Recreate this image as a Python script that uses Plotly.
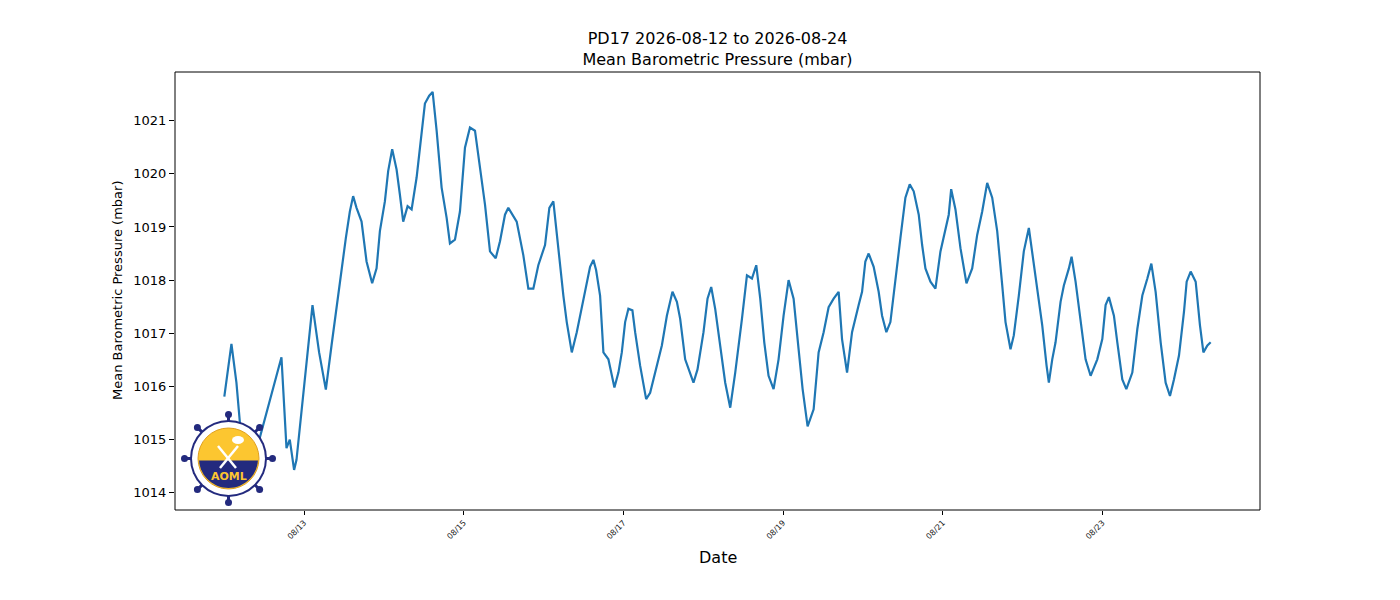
import math
import pandas as pd
import plotly.graph_objects as go

# hours after 2026-08-12 00:00 and pressure
hours = [0.0, 2.14, 3.64, 4.63, 6.44, 17.18, 18.69, 19.68, 20.98, 21.70,
         24.20, 26.51, 28.50, 30.52, 32.23, 34.22, 35.24, 36.53, 37.74, 38.73,
         39.75, 41.26, 42.76, 44.45, 45.77, 46.77, 48.27, 49.26, 50.47, 51.79,
         52.78, 53.78, 55.10, 56.31, 57.81, 59.01, 60.31, 61.60, 62.63, 63.83,
         65.33, 66.84, 67.83, 69.34, 70.84, 72.35, 73.85, 75.36, 76.86, 78.37,
         79.87, 81.59, 82.88, 84.38, 85.38, 87.90, 89.89, 91.40, 92.90, 94.40,
         96.42, 97.72, 98.92, 100.42, 101.93, 102.95, 104.46, 105.96, 107.47, 108.97,
         109.96, 110.96, 111.77, 112.97, 113.97, 115.47, 117.28, 118.48, 119.50, 120.50,
         121.49, 122.69, 123.51, 125.01, 126.82, 128.02, 130.04, 131.54, 133.05, 134.73,
         136.06, 137.05, 138.55, 139.55, 141.05, 142.26, 144.06, 145.27, 146.38, 147.58,
         149.09, 150.59, 152.10, 153.60, 155.62, 157.12, 158.63, 159.92, 161.12, 162.33,
         163.62, 165.13, 166.63, 168.14, 169.64, 171.15, 172.65, 173.86, 175.36, 177.17,
         178.67, 180.18, 181.68, 183.19, 184.69, 185.71, 187.22, 188.72, 190.71, 191.73,
         192.72, 193.71, 195.22, 196.72, 197.75, 199.04, 200.25, 201.75, 203.26, 204.76,
         206.06, 207.26, 208.77, 209.79, 210.78, 212.29, 213.79, 215.30, 216.80, 217.79,
         218.52, 219.81, 221.32, 223.12, 224.84, 226.34, 227.85, 229.35, 230.86, 232.36,
         233.87, 234.86, 236.36, 237.35, 238.86, 240.36, 241.87, 243.19, 244.40, 245.90,
         247.20, 247.89, 248.91, 249.90, 251.41, 252.40, 253.91, 254.72, 255.92, 257.43,
         258.93, 260.44, 262.45, 263.96, 264.95, 265.94, 267.45, 268.47, 269.97, 271.18,
         272.98, 274.49, 275.99, 277.50, 278.70, 279.99, 281.50, 283.00, 284.30, 285.50,
         287.01, 288.51, 289.32, 290.52, 292.03, 293.32, 294.35, 295.55, 296.54]

pressure = [1015.81, 1016.80, 1016.07, 1015.31, 1014.05, 1016.55, 1014.84, 1015.00, 1014.43, 1014.62,
            1016.20, 1017.53, 1016.64, 1015.94, 1016.77, 1017.71, 1018.28, 1018.79, 1019.29, 1019.58,
            1019.36, 1019.10, 1018.35, 1017.94, 1018.22, 1018.92, 1019.48, 1020.05, 1020.46, 1020.08,
            1019.61, 1019.10, 1019.39, 1019.33, 1019.93, 1020.62, 1021.32, 1021.47, 1021.54, 1020.81,
            1019.74, 1019.17, 1018.69, 1018.76, 1019.29, 1020.49, 1020.87, 1020.81, 1020.11, 1019.42,
            1018.54, 1018.41, 1018.73, 1019.23, 1019.36, 1019.10, 1018.47, 1017.84, 1017.84, 1018.28,
            1018.66, 1019.36, 1019.48, 1018.54, 1017.71, 1017.21, 1016.64, 1017.02, 1017.46, 1017.90,
            1018.25, 1018.38, 1018.19, 1017.71, 1016.64, 1016.51, 1015.98, 1016.26, 1016.64, 1017.21,
            1017.46, 1017.43, 1017.02, 1016.39, 1015.76, 1015.88, 1016.39, 1016.77, 1017.33, 1017.78,
            1017.59, 1017.27, 1016.51, 1016.32, 1016.07, 1016.32, 1017.02, 1017.65, 1017.87, 1017.46,
            1016.77, 1016.07, 1015.60, 1016.26, 1017.27, 1018.09, 1018.03, 1018.28, 1017.65, 1016.83,
            1016.20, 1015.95, 1016.51, 1017.33, 1018.00, 1017.65, 1016.70, 1015.95, 1015.25, 1015.57,
            1016.64, 1017.02, 1017.49, 1017.65, 1017.78, 1016.89, 1016.26, 1017.02, 1017.53, 1017.78,
            1018.35, 1018.50, 1018.25, 1017.78, 1017.33, 1017.02, 1017.21, 1018.03, 1018.79, 1019.55,
            1019.80, 1019.67, 1019.23, 1018.66, 1018.22, 1017.97, 1017.84, 1018.54, 1018.98, 1019.23,
            1019.71, 1019.33, 1018.60, 1017.94, 1018.22, 1018.85, 1019.29, 1019.83, 1019.55, 1018.92,
            1017.90, 1017.21, 1016.70, 1016.96, 1017.71, 1018.54, 1018.98, 1018.35, 1017.84, 1017.15,
            1016.39, 1016.07, 1016.51, 1016.83, 1017.59, 1017.90, 1018.22, 1018.44, 1017.97, 1017.27,
            1016.51, 1016.20, 1016.51, 1016.89, 1017.53, 1017.68, 1017.33, 1016.83, 1016.13, 1015.95,
            1016.26, 1017.08, 1017.71, 1018.03, 1018.31, 1017.78, 1016.83, 1016.07, 1015.82, 1016.13,
            1016.58, 1017.40, 1017.97, 1018.16, 1017.97, 1017.15, 1016.64, 1016.77, 1016.83]

tick_dates = ["2026-08-13", "2026-08-15", "2026-08-17", "2026-08-19", "2026-08-21", "2026-08-23"]
tick_text = ["08/13", "08/15", "08/17", "08/19", "08/21", "08/23"]

start = pd.Timestamp("2026-08-12 00:00")
times = start + pd.to_timedelta(hours, unit="h")

fig = go.Figure()
fig.add_trace(go.Scatter(x=times, y=pressure, mode="lines",
                         line=dict(color="#1f77b4", width=2.2), showlegend=False))

# 5% padding like matplotlib
span = times[-1] - times[0]
xr = [times[0] - span * 0.05, times[-1] + span * 0.05]
pr = max(pressure) - min(pressure)
yr = [min(pressure) - pr * 0.05, max(pressure) + pr * 0.05]

# the page puts the figure 8px in from the corner
OFF = 8
# plot area in screen pixels: x 175..1260, y 72..510
L, R, T, B = 175, 1260, 72, 510


def px(x):
    return (x - L) / (R - L)


def py(y):
    return (B - y) / (B - T)


navy = "#232a7e"
gold = "#fcc630"
shapes = []
cx, cy = 228.5, 458.5

# wheel spokes and knobs
for k in range(8):
    a = math.radians(45 * k)
    ex, ey = cx + 44 * math.cos(a), cy - 44 * math.sin(a)
    shapes.append(dict(type="line", xref="paper", yref="paper", x0=px(cx), y0=py(cy),
                       x1=px(ex), y1=py(ey), line=dict(color=navy, width=3), layer="above"))
    shapes.append(dict(type="circle", xref="paper", yref="paper",
                       x0=px(ex - 3.5), x1=px(ex + 3.5), y0=py(ey + 3.5), y1=py(ey - 3.5),
                       fillcolor=navy, line=dict(width=0), layer="above"))


def disk(r, fill, lc=None, lw=0):
    return dict(type="circle", xref="paper", yref="paper",
                x0=px(cx - r), x1=px(cx + r), y0=py(cy + r), y1=py(cy - r),
                fillcolor=fill, line=dict(color=lc or fill, width=lw), layer="above")


shapes.append(disk(38.5, navy))
shapes.append(disk(36.5, "white"))
shapes.append(disk(30.5, gold, "#e0a020", 1))

# lower (water) half of the inner disk
r = 29.5
wl = 2.0
a0 = math.asin(wl / r)
pts = []
n = 30
for i in range(n + 1):
    a = -a0 - (math.pi - 2 * a0) * i / n
    pts.append((cx + r * math.cos(a), cy - r * math.sin(a)))
path = "M " + " L ".join(f"{px(x):.5f},{py(y):.5f}" for x, y in pts) + " Z"
shapes.append(dict(type="path", xref="paper", yref="paper", path=path,
                   fillcolor=navy, line=dict(width=0), layer="above"))

# white crossed symbols
shapes.append(dict(type="line", xref="paper", yref="paper", x0=px(218), y0=py(446),
                   x1=px(236), y1=py(468), line=dict(color="white", width=2.5), layer="above"))
shapes.append(dict(type="line", xref="paper", yref="paper", x0=px(238), y0=py(446),
                   x1=px(220), y1=py(468), line=dict(color="white", width=2.5), layer="above"))
shapes.append(dict(type="circle", xref="paper", yref="paper", x0=px(232), x1=px(244),
                   y0=py(444), y1=py(436), fillcolor="white", line=dict(width=0), layer="above"))

# plot frame
shapes.append(dict(type="rect", xref="paper", yref="paper", x0=0, x1=1, y0=0, y1=1,
                   line=dict(color="black", width=1), layer="above"))

annotations = [
    dict(text="AOML", x=px(cx), y=py(476.5), xref="paper", yref="paper", showarrow=False,
         xanchor="center", yanchor="middle",
         font=dict(family="DejaVu Sans", size=11, color=gold, weight="bold")),
    dict(text="Date", x=0.5, y=py(557), xref="paper", yref="paper", showarrow=False,
         xanchor="center", yanchor="middle",
         font=dict(family="DejaVu Sans", size=16, color="black")),
    dict(text="Mean Barometric Pressure (mbar)", x=px(117), y=0.5, xref="paper", yref="paper",
         showarrow=False, textangle=-90, xanchor="center", yanchor="middle",
         font=dict(family="DejaVu Sans", size=13, color="black")),
]

fig.update_layout(
    width=1400, height=600,
    margin=dict(l=L - OFF, r=1400 - R + OFF, t=T - OFF, b=600 - B + OFF),
    paper_bgcolor="white", plot_bgcolor="white",
    font=dict(family="DejaVu Sans", color="black"),
    title=dict(text="PD17 2026-08-12 to 2026-08-24<br>Mean Barometric Pressure (mbar)",
               x=0.5, xref="paper", y=1 - (44 - OFF) / 600, yref="container", yanchor="middle",
               font=dict(size=16, color="black")),
    xaxis=dict(range=xr, tickvals=pd.to_datetime(tick_dates), ticktext=tick_text,
               tickangle=-45, tickfont=dict(size=8, color="#222222"),
               ticks="outside", ticklen=4, tickcolor="black", showgrid=False,
               zeroline=False, showline=False),
    yaxis=dict(range=yr, tickvals=list(range(1014, 1022)), tickfont=dict(size=13),
               ticks="outside", ticklen=5, tickcolor="black", showgrid=False,
               zeroline=False, showline=False),
    shapes=shapes,
    annotations=annotations,
)

fig.write_html("out.html")
